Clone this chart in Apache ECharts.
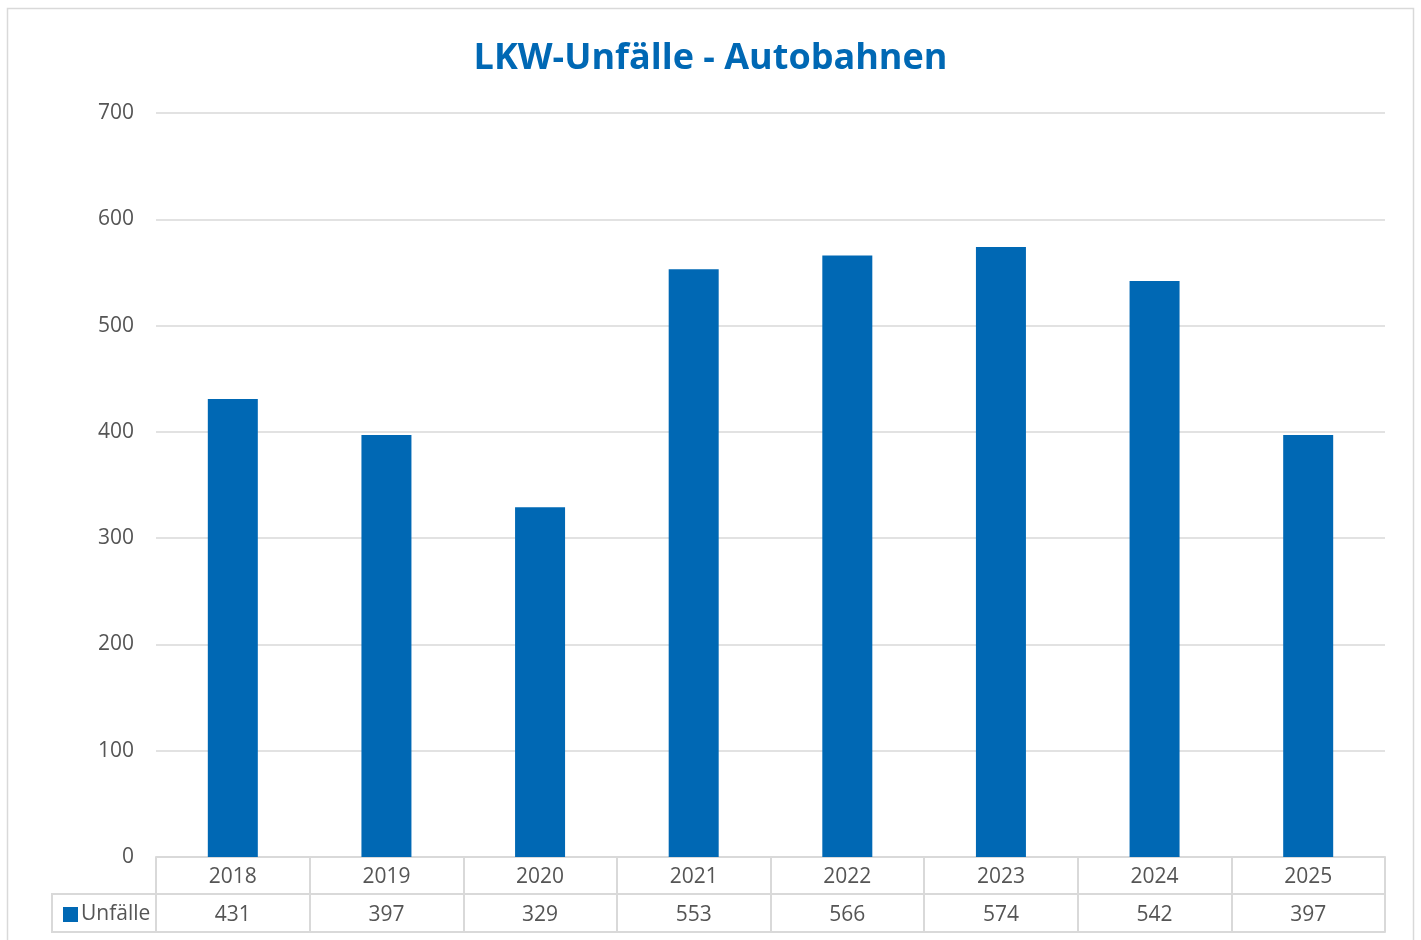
<!DOCTYPE html>
<html>
<head>
<meta charset="utf-8">
<script src="https://cdn.jsdelivr.net/npm/echarts@6/dist/echarts.min.js"></script>
<style>
html,body{margin:0;padding:0;background:#fff;}
#c{width:1421px;height:940px;}
</style>
</head>
<body>
<div id="c"></div>
<script>
const titleText = 'LKW-Unfälle - Autobahnen';
const seriesName = 'Unfälle';
const years = ['2018','2019','2020','2021','2022','2023','2024','2025'];
const values = [431, 397, 329, 553, 566, 574, 542, 397];
const yMin = 0, yMax = 700, yStep = 100;

const gridColor = '#d9d9d9';
const textColor = '#555555';
const barColor = '#0068B4';
const font = 'Open Sans';

const chart = echarts.init(document.getElementById('c'), null, {renderer: 'canvas'});
chart.setOption({
  animation: false,
  backgroundColor: '#fff',
  title: {
    text: titleText,
    left: 'center',
    top: 36,
    textStyle: {color: barColor, fontSize: 36, fontWeight: 'bold', fontFamily: font}
  },
  legend: {
    data: [seriesName],
    left: 58,
    top: 899,
    itemWidth: 15,
    itemHeight: 15,
    itemGap: 4,
    icon: 'rect',
    textStyle: {color: textColor, fontSize: 21, fontFamily: font, padding: [0,0,0,-2]}
  },
  grid: {left: 156, right: 36, top: 113, bottom: 83, containLabel: false},
  xAxis: [
    {
      type: 'category', data: years, position: 'bottom',
      axisLine: {show: true, lineStyle: {color: gridColor, width: 2}},
      axisTick: {show: true, length: 75, inside: false, lineStyle: {color: gridColor, width: 2}},
      axisLabel: {color: textColor, fontSize: 21, fontFamily: font, margin: 10}
    },
    {
      type: 'category', data: values.map(String), position: 'bottom', offset: 37,
      axisLine: {show: true, lineStyle: {color: gridColor, width: 2}},
      axisTick: {show: false},
      axisLabel: {color: textColor, fontSize: 21, fontFamily: font, margin: 11}
    },
    {
      type: 'category', data: years, position: 'bottom', offset: 75,
      axisLine: {show: true, lineStyle: {color: gridColor, width: 2}},
      axisTick: {show: false},
      axisLabel: {show: false}
    }
  ],
  yAxis: {
    type: 'value', min: yMin, max: yMax, interval: yStep,
    axisLine: {show: false}, axisTick: {show: false},
    axisLabel: {color: textColor, fontSize: 21, fontFamily: font, margin: 22, padding: [3,0,0,0]},
    splitLine: {lineStyle: {color: gridColor, width: 1.5}}
  },
  series: [{
    name: seriesName, type: 'bar', data: values, xAxisIndex: 0,
    barWidth: 50,
    itemStyle: {color: barColor}
  }],
  graphic: [
    {type: 'rect', shape: {x: 7.5, y: 8.5, width: 1406, height: 960}, style: {fill: 'none', stroke: gridColor, lineWidth: 1.5}, silent: true, z: -1},
    {type: 'polyline', shape: {points: [[156, 894], [52, 894], [52, 932], [156, 932]]}, style: {fill: 'none', stroke: gridColor, lineWidth: 2}, silent: true}
  ]
});
</script>
</body>
</html>
